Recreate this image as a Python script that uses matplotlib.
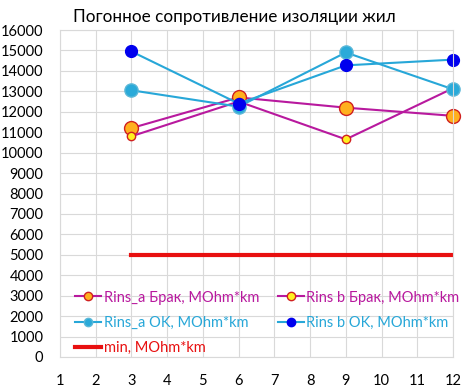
import matplotlib.pyplot as plt

plt.rcParams['font.family'] = ['Lato', 'DejaVu Sans']

x = [3, 6, 9, 12]
rins_a_brak = [11200, 12700, 12200, 11800]
rins_b_brak = [10800, 12500, 10650, 13150]
rins_a_ok = [13050, 12250, 14900, 13100]
rins_b_ok = [14950, 12400, 14270, 14550]
min_val = [5000, 5000, 5000, 5000]

labels = ['Rins_a Брак, MOhm*km', 'Rins b Брак, MOhm*km',
          'Rins_a OK, MOhm*km', 'Rins b OK, MOhm*km', 'min, MOhm*km']

magenta = '#B8199E'
cyan = '#27A7D8'

fig = plt.figure(figsize=(4.69, 3.88), dpi=100)
ax = fig.add_axes([60 / 469, 31 / 388, 393 / 469, 327 / 388])

h1, = ax.plot(x, rins_a_brak, color=magenta, lw=1.5, marker='o', ms=10,
              mfc='#FFB01E', mec='#D02020', mew=1, label=labels[0], clip_on=False)
h2, = ax.plot(x, rins_b_brak, color=magenta, lw=1.5, marker='o', ms=6,
              mfc='#FFF020', mec='#D02020', mew=1, label=labels[1], clip_on=False)
h3, = ax.plot(x, rins_a_ok, color=cyan, lw=1.5, marker='o', ms=9.5,
              mfc='#2AAAD9', mec='#5BB8D8', mew=1, label=labels[2], clip_on=False)
h4, = ax.plot(x, rins_b_ok, color=cyan, lw=1.5, marker='o', ms=8.5,
              mfc='#0000EE', mec='#0000EE', mew=1, label=labels[3], clip_on=False)
h5, = ax.plot(x, min_val, color='#E81010', lw=3, label=labels[4])

ax.set_xlim(1, 12)
ax.set_ylim(0, 16000)
ax.set_xticks(range(1, 13))
ax.set_yticks(range(0, 16001, 1000))
ax.grid(True, color='#D9D9D9', lw=0.8)
ax.set_axisbelow(True)
for s in ax.spines.values():
    s.set_color('#D9D9D9')
    s.set_linewidth(0.8)
ax.tick_params(length=0, labelsize=10.5)
ax.tick_params(axis='x', pad=12)
ax.tick_params(axis='y', pad=12)

fig.text(0.5, 0.955, 'Погонное сопротивление изоляции жил', ha='center',
         va='center', fontsize=12.3)

leg = ax.legend([h1, h3, h5, h2, h4],
                [labels[0], labels[2], labels[4], labels[1], labels[3]],
                ncol=2, loc='lower left', bbox_to_anchor=(0.005, -0.035),
                frameon=False, fontsize=10.5, handlelength=1.8,
                handletextpad=0.15, columnspacing=1.3, labelspacing=0.78)
text_colors = [magenta, cyan, '#E81010', magenta, cyan]
for t, c in zip(leg.get_texts(), text_colors):
    t.set_color(c)
for lh in leg.legend_handles:
    lh.set_markersize(6)

fig.savefig('out.png', dpi=100)
